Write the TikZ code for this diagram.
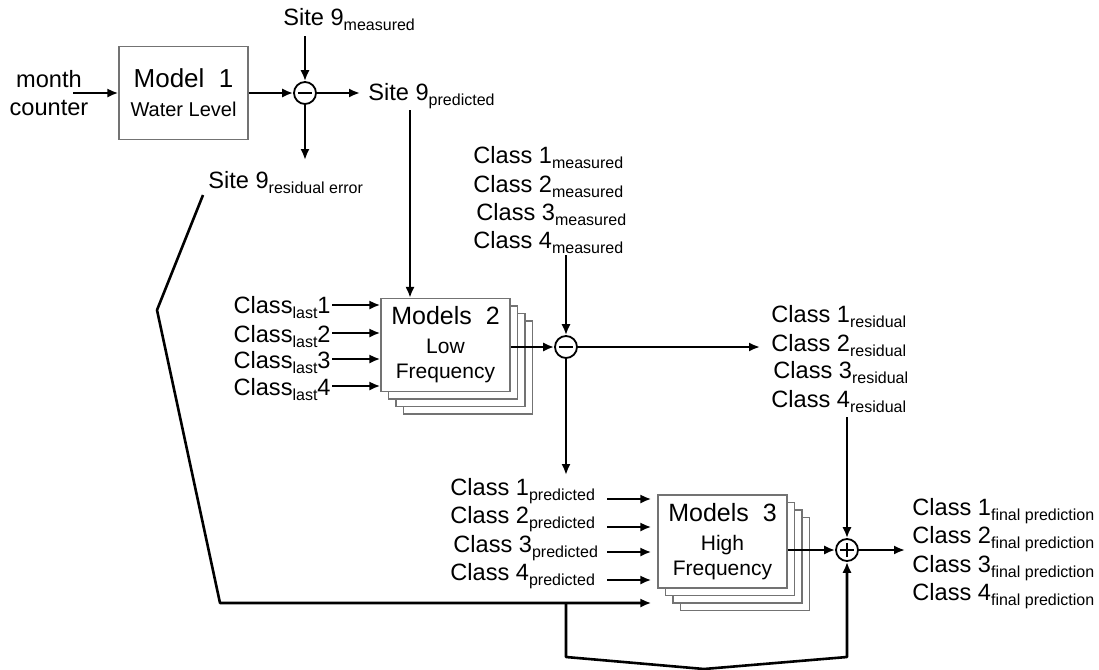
\documentclass[tikz,border=0pt]{standalone}
\usepackage{fontspec}
\setmainfont{Liberation Sans}
\usetikzlibrary{arrows.meta}

\newcommand{\subtxt}[1]{\raisebox{-2.5pt}{\fontsize{8}{9}\selectfont #1}}

\tikzset{
  arr/.style={-{Latex[length=5.5pt,width=4.6pt]}, line width=1.3pt},
  mbox/.style={draw=black!55, fill=white, line width=0.7pt, minimum width=64.5pt, minimum height=46.5pt, inner sep=0pt, align=center},
  sumc/.style={draw, circle, line width=0.9pt, minimum size=11pt, inner sep=0pt},
  minus/.style={sumc, path picture={\draw[line width=0.8pt] ([xshift=-3.6pt]path picture bounding box.center) -- ([xshift=3.6pt]path picture bounding box.center);}},
  plus/.style={sumc, path picture={\draw[line width=0.8pt] ([xshift=-3.6pt]path picture bounding box.center) -- ([xshift=3.6pt]path picture bounding box.center)
      ([yshift=-3.6pt]path picture bounding box.center) -- ([yshift=3.6pt]path picture bounding box.center);}},
  lbl/.style={inner sep=0pt, font=\fontsize{11.8}{14}\selectfont}
}

\begin{document}
\begin{tikzpicture}[x=0.5pt, y=-0.5pt]
\useasboundingbox (0,0) rectangle (1099,670);

% model 1 and the site 9 junction
\node[mbox, font=\fontsize{10}{14.5}\selectfont] (M1) at (183.5,93) {{\fontsize{13}{14.5}\selectfont Model\ \ 1}\\Water Level};
\node[lbl, anchor=base] (month) at (49,87) {month};
\node[lbl, anchor=base] (counter) at (49,115) {counter};
\coordinate (mc) at (73,93);
\draw[arr] (mc) -- (M1.west);

\node[minus] (c1) at (305,93) {};
\draw[arr] (M1.east) -- (c1.west);
\node[lbl, anchor=base west] (S9m) at (283,25) {Site 9\subtxt{measured}};
\coordinate (s9m) at (305,36);
\draw[arr] (s9m) -- (c1.north);
\node[lbl, anchor=base west] (S9p) at (368,100) {Site 9\subtxt{predicted}};
\coordinate (s9p) at (360,93);
\draw[arr] (c1.east) -- (s9p);
\node[lbl, anchor=base west] (S9r) at (208,188) {Site 9\subtxt{residual error}};
\coordinate (s9r) at (305,160);
\draw[arr] (c1.south) -- (s9r);

% models 2, low frequency
\node[mbox] (M2b3) at (468,367.5) {};
\node[mbox] (M2b2) at (460.5,360) {};
\node[mbox] (M2b1) at (453,352.5) {};
\node[mbox, font=\fontsize{10.5}{12.5}\selectfont] (M2) at (445.5,345) {{\fontsize{12.5}{13}\selectfont Models\ \ 2}\\[2pt]Low\\Frequency};
\coordinate (p0) at (410,110);
\draw[arr] (p0) -- (p0 |- M2.north);

\node[lbl, anchor=base east] (L1) at (331,313) {Class\subtxt{last}1};
\node[lbl, anchor=base east] (L2) at (331,342) {Class\subtxt{last}2};
\node[lbl, anchor=base east] (L3) at (331,368) {Class\subtxt{last}3};
\node[lbl, anchor=base east] (L4) at (331,395) {Class\subtxt{last}4};
\coordinate (l1) at (332,305);
\coordinate (l2) at (332,333);
\coordinate (l3) at (332,359);
\coordinate (l4) at (332,386);
\draw[arr] (l1) -- (l1 -| M2.west);
\draw[arr] (l2) -- (l2 -| M2.west);
\draw[arr] (l3) -- (l3 -| M2.west);
\draw[arr] (l4) -- (l4 -| M2.west);

\node[minus] (c2) at (566,347) {};
\draw[arr] (M2.east |- c2) -- (c2.west);
\node[lbl, anchor=base west] (Cm1) at (473,163) {Class 1\subtxt{measured}};
\node[lbl, anchor=base west] (Cm2) at (473,192) {Class 2\subtxt{measured}};
\node[lbl, anchor=base west] (Cm3) at (476,220) {Class 3\subtxt{measured}};
\node[lbl, anchor=base west] (Cm4) at (473,248) {Class 4\subtxt{measured}};
\coordinate (cm) at (566,255);
\draw[arr] (cm) -- (c2.north);

\node[lbl, anchor=base west] (Cr1) at (771,322) {Class 1\subtxt{residual}};
\node[lbl, anchor=base west] (Cr2) at (771,351) {Class 2\subtxt{residual}};
\node[lbl, anchor=base west] (Cr3) at (773,378) {Class 3\subtxt{residual}};
\node[lbl, anchor=base west] (Cr4) at (771,407) {Class 4\subtxt{residual}};
\coordinate (cr) at (760,347);
\draw[arr] (c2.east) -- (cr);
\coordinate (cp) at (566,475);
\draw[arr] (c2.south) -- (cp);

% models 3, high frequency
\node[mbox] (M3b3) at (745,564) {};
\node[mbox] (M3b2) at (737.5,556.5) {};
\node[mbox] (M3b1) at (730,549) {};
\node[mbox, font=\fontsize{10.5}{12.5}\selectfont] (M3) at (722.5,541.5) {{\fontsize{12.5}{13}\selectfont Models\ \ 3}\\[2pt]High\\Frequency};

\node[lbl, anchor=base west] (Cp1) at (450,495) {Class 1\subtxt{predicted}};
\node[lbl, anchor=base west] (Cp2) at (450,523) {Class 2\subtxt{predicted}};
\node[lbl, anchor=base west] (Cp3) at (453,552) {Class 3\subtxt{predicted}};
\node[lbl, anchor=base west] (Cp4) at (450,580) {Class 4\subtxt{predicted}};
\coordinate (q1) at (607,499);
\coordinate (q2) at (607,527);
\coordinate (q3) at (607,552);
\coordinate (q4) at (607,580);
\draw[arr, shorten >=3pt] (q1) -- (q1 -| M3.west);
\draw[arr, shorten >=3pt] (q2) -- (q2 -| M3.west);
\draw[arr, shorten >=3pt] (q3) -- (q3 -| M3.west);
\draw[arr, shorten >=3pt] (q4) -- (q4 -| M3.west);

% residual error path round the bottom
\coordinate (e0) at (203,195);
\coordinate (e1) at (157,310);
\coordinate (e2) at (220,603);
\coordinate (e3) at (566,603);
\draw[arr, shorten >=3pt, line join=round] (e0) -- (e1) -- (e2) -- (e2 -| M3.west);

\node[plus] (c3) at (847,550) {};
\draw[arr] (M3.east |- c3) -- (c3.west);
\coordinate (rr) at (847,417);
\draw[arr] (rr) -- (c3.north);
\coordinate (b1) at (566,657);
\coordinate (b2) at (704,669);
\coordinate (b3) at (847,657);
\draw[arr, line join=round] (e3) -- (b1) -- (b2) -- (b3) -- (c3.south);

\node[lbl, anchor=base west] (Cf1) at (912,515) {Class 1\subtxt{final prediction}};
\node[lbl, anchor=base west] (Cf2) at (912,543) {Class 2\subtxt{final prediction}};
\node[lbl, anchor=base west] (Cf3) at (912,572) {Class 3\subtxt{final prediction}};
\node[lbl, anchor=base west] (Cf4) at (912,600) {Class 4\subtxt{final prediction}};
\coordinate (fp) at (905,550);
\draw[arr] (c3.east) -- (fp);
\end{tikzpicture}
\end{document}
